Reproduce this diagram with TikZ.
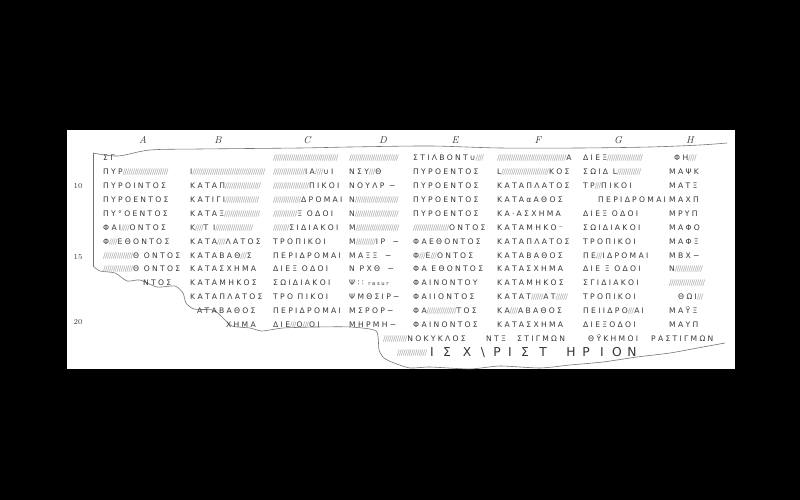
\documentclass[tikz,border=0pt]{standalone}
\usepackage{fontspec}
\newfontfamily\insc[LetterSpace=30]{DejaVu Sans}
\newfontfamily\hatchfont[LetterSpace=-8]{DejaVu Sans}
\definecolor{ink}{RGB}{55,55,55}
\definecolor{hatch}{RGB}{165,165,165}
\definecolor{edge}{RGB}{115,115,115}
% n diagonal strokes for a worn-away stretch
\newcommand\hz[1]{{\hatchfont\color{hatch}\foreach\k in {1,...,#1}{/}}}

\tikzset{
  letters/.style={anchor=base west, inner sep=0pt, text=ink,
    font=\insc\fontsize{6.5}{7}\selectfont},
  bigletter/.style={anchor=base, inner sep=0pt, text=ink,
    font=\insc\fontsize{10.5}{11}\selectfont},
  colhead/.style={text=ink, font=\fontsize{8.5}{9}\selectfont\itshape},
  lineno/.style={text=ink, font=\fontsize{6.5}{7}\selectfont},
}

\begin{document}
\begin{tikzpicture}[x=0.3mm,y=-0.3mm]
\useasboundingbox (0,0) rectangle (800,500);
\fill[black] (0,0) rectangle (800,500);
\fill[white] (67,130) rectangle (735,369);

% column letters and line numbers
\foreach \c/\x in {A/143,B/218,C/307,D/383,E/455,F/538,G/618,H/690}
  \node[colhead] (h\c) at (\x,140) {\c};
\foreach \n/\y in {10/186,15/257,20/322}
  \node[lineno] (n\n) at (78,\y) {\n};

% outline of the stone
\draw[edge, line width=0.5pt] plot[smooth] coordinates {(93,153) (118,156) (150,150) (200,149) (300,148) (350,147) (430,146) (500,148) (580,148) (650,147) (700,145) (727,143)};
\draw[edge, line width=0.5pt] (93,153) -- (93,266);
\draw[edge, line width=0.5pt] plot[smooth, tension=0.4] coordinates {(93,266) (100,271) (115,273) (127,281) (140,280) (157,287) (175,286) (183,293) (186,303) (194,309) (213,310) (221,316) (232,326) (250,328) (262,331) (283,328) (317,327) (350,327) (376,331) (379,350) (384,358) (394,363) (410,368) (430,367) (470,369) (500,366) (540,368) (570,365) (603,362) (637,357) (670,353) (703,347) (725,343)};

% column A
\foreach \t [count=\i] in {ΣΓ, ΠΥΡ\hz{23}, ΠΥΡΟΙΝΤΟΣ, ΠΥΡΟΕΝΤΟΣ, ΠΥ°ΟΕΝΤΟΣ,
    ΦΑΙ\hz{4}ΟΝΤΟΣ, Φ\hz{4}ΕΘΟΝΤΟΣ, \hz{15}Θ ΟΝΤΟΣ, \hz{15}Θ ΟΝΤΟΣ}
  \node[letters] (a\i) at (103,{161+13.86*(\i-1)}) {\t};
\node[letters] (a10) at (143,{161+13.86*9}) {ΝΤΟΣ};

% column B
\foreach \t [count=\i] in {{}, Ι\hz{37}, ΚΑΤΑΠ\hz{18}, ΚΑΤΙΓΙ\hz{17},
    ΚΑΤΑΞ\hz{18}, Κ\hz{4}Τ Ι\hz{19}, ΚΑΤΑ\hz{4}ΛΑΤΟΣ, ΚΑΤΑΒΑΘ\hz{3}Σ,
    ΚΑΤΑΣΧΗΜΑ, ΚΑΤΑΜΗΚΟΣ, ΚΑΤΑΠΛΑΤΟΣ}
  \node[letters] (b\i) at (190,{161+13.86*(\i-1)}) {\t};
\node[letters] (b12) at (197,{161+13.86*11}) {ΑΤΑΒΑΘΟΣ};
\node[letters] (b13) at (226,{161+13.86*12}) {ΧΗΜΑ};

% column C
\foreach \t [count=\i] in {\hz{33}, \hz{16}ΙΑ\hz{4}∪Ι, \hz{18}ΠΙΚΟΙ, \hz{14}ΔΡΟΜΑΙ,
    \hz{12}Ξ ΟΔΟΙ, \hz{8}ΣΙΔΙΑΚΟΙ, ΤΡΟΠΙΚΟΙ, ΠΕΡΙΔΡΟΜΑΙ, ΔΙΕΞ ΟΔΟΙ, ΣΩΙΔΙΑΚΟΙ,
    ΤΡΟ ΠΙΚΟΙ, ΠΕΡΙΔΡΟΜΑΙ, ΔΙΕ\hz{3}Ο\hz{3}ΟΙ}
  \node[letters] (c\i) at (273,{161+13.86*(\i-1)}) {\t};

% column D
\foreach \t [count=\i] in {\hz{25}, ΝΣΥ\hz{3}Θ, ΝΟΥΛΡ −, Ν\hz{22}, Ν\hz{22}, Μ\hz{22},
    Μ\hz{10}ΙΡ\quad −, ΜΑΞΞ\quad −, Ν ΡΧΘ\quad −,
    Ψ∶∶ {\fontsize{4.5}{5}\selectfont rasur}, ΨΜΘΣΙΡ−, ΜΣΡΟΡ−, ΜΗΡΜΗ−}
  \node[letters] (d\i) at (349,{161+13.86*(\i-1)}) {\t};

% column E
\foreach \t [count=\i] in {ΣΤΙΛΒΟΝΤ∪\hz{4}, ΠΥΡΟΕΝΤΟΣ, ΠΥΡΟΕΝΤΟΣ, ΠΥΡΟΕΝΤΟΣ, ΠΥΡΟΕΝΤΟΣ,
    \hz{18}ΟΝΤΟΣ, ΦΑΕΘΟΝΤΟΣ, Φ\hz{3}Ε\hz{3}ΟΝΤΟΣ, ΦΑ ΕΘΟΝΤΟΣ,
    ΦΑΙΝΟΝΤΟΥ, ΦΑΙΙΟΝΤΟΣ, ΦΑ\hz{15}ΤΟΣ, ΦΑΙΝΟΝΤΟΣ}
  \node[letters] (e\i) at (413,{161+13.86*(\i-1)}) {\t};

% column F
\foreach \t [count=\i] in {\hz{35}Α, L\hz{24}ΚΟΣ, ΚΑΤΑΠΛΑΤΟΣ, ΚΑΤΑαΑΘΟΣ, ΚΑ·ΑΣΧΗΜΑ,
    ΚΑΤΑΜΗΚΟ⁻, ΚΑΤΑΠΛΑΤΟΣ, ΚΑΤΑΒΑΘΟΣ, ΚΑΤΑΣΧΗΜΑ, ΚΑΤΑΜΗΚΟΣ,
    ΚΑΤΑΤ\hz{6}ΑΤ\hz{6}, ΚΑ\hz{4}ΑΒΑΘΟΣ, ΚΑΤΑΣΧΗΜΑ}
  \node[letters] (f\i) at (497,{161+13.86*(\i-1)}) {\t};

% column G
\foreach \t [count=\i] in {ΔΙΕΞ\hz{18}, ΣΩΙΔ L\hz{12}, ΤΡ\hz{3}ΠΙΚΟΙ,
    {}, ΔΙΕΞ ΟΔΟΙ, ΣΩΙΔΙΑΚΟΙ, ΤΡΟΠΙΚΟΙ, ΠΕ\hz{3}ΙΔΡΟΜΑΙ, ΔΙΕ Ξ ΟΔΟΙ,
    ΣΓΙΔΙΑΚΟΙ, ΤΡΟΠΙΚΟΙ, ΠΕΙΙΔΡΟ\hz{3}ΑΙ, ΔΙΕΞΟΔΟΙ}
  \node[letters] (g\i) at (583,{161+13.86*(\i-1)}) {\t};
\node[letters] (g4) at (598,{161+13.86*3}) {ΠΕΡΙΔΡΟΜΑΙ};

% column H
\foreach \t [count=\i] in {{}, ΜΑΨΚ, ΜΑΤΞ, ΜΑΧΠ, ΜΡΥΠ, ΜΑΦΟ, ΜΑΦΞ, ΜΒΧ−,
    Ν\hz{14}, \hz{18}, {}, ΜΑΫΞ, ΜΑΥΠ}
  \node[letters] (h\i) at (669,{161+13.86*(\i-1)}) {\t};
\node[letters] (h1) at (674,161) {ΦΗ\hz{4}};
\node[letters] (h11) at (678,{161+13.86*10}) {ΘΩΙ\hz{3}};

% the two closing lines
\node[letters] (r14a) at (383,{161+13.86*13}) {\hz{12}ΝΟΚΥΚΛΟΣ};
\node[letters] (r14b) at (486,{161+13.86*13}) {ΝΤΞ};
\node[letters] (r14c) at (517,{161+13.86*13}) {ΣΤΙΓΜΩΝ};
\node[letters] (r14d) at (588,{161+13.86*13}) {ΘΫΚΗΜΟΙ};
\node[letters] (r14e) at (651,{161+13.86*13}) {ΡΑΣΤΙΓΜΩΝ};
\node[letters] (r15) at (397,{161+13.86*14}) {\hz{15}};
\foreach \c/\x [count=\k] in {Ι/432,Σ/447,Χ/467,\textbackslash/483,Ρ/497,Ι/510,Σ/525,Τ/543,Η/571,Ρ/586,Ι/602,Ο/617,Ν/632}
  \node[bigletter] (s\k) at (\x,{162+13.86*14}) {\c};
\end{tikzpicture}
\end{document}
